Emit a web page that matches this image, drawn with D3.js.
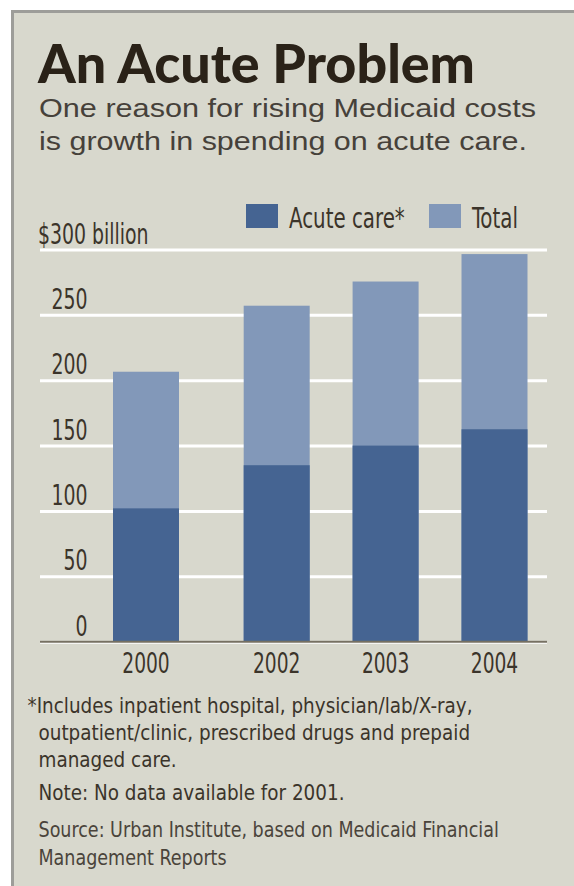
<!DOCTYPE html>
<html>
<head>
<meta charset="utf-8">
<script src="https://cdn.jsdelivr.net/npm/d3@7"></script>
<style>
  body { margin: 0; background: #fff; }
  svg text { font-family: 'DejaVu Sans Condensed', 'DejaVu Sans', sans-serif; fill: #3b342a; }
</style>
</head>
<body>
<script>
// Data (billions of dollars)
const years = ['2000', '2002', '2003', '2004'];
const acuteCare = [102, 135, 150, 162.5];
const totalSpending = [206.5, 257, 275.5, 296.5];
const yTicks = [0, 50, 100, 150, 200, 250, 300];

const titleText = 'An Acute Problem';
const subtitleLines = [
  'One reason for rising Medicaid costs',
  'is growth in spending on acute care.',
];
const legendLabels = ['Acute care*', 'Total'];
const footnoteFirst = '*Includes inpatient hospital, physician/lab/X-ray,';
const footnoteLines = [
  'outpatient/clinic, prescribed drugs and prepaid',
  'managed care.',
];
const noteText = 'Note: No data available for 2001.';
const sourceLines = [
  'Source: Urban Institute, based on Medicaid Financial',
  'Management Reports',
];

const darkBlue = '#456492';
const lightBlue = '#8298b9';

// squeeze text horizontally, the original uses a condensed face
const condense = (sel, factor) =>
  sel.each(function () {
    const len = this.getComputedTextLength();
    d3.select(this)
      .attr('textLength', len * factor)
      .attr('lengthAdjust', 'spacingAndGlyphs');
  });

// Canvas
const width = 574;
const height = 886;
const svg = d3
  .select('body')
  .append('svg')
  .attr('width', width)
  .attr('height', height);

// Panel background and border
svg
  .append('rect')
  .attr('x', 12)
  .attr('y', 10)
  .attr('width', width - 12)
  .attr('height', height - 10)
  .attr('fill', '#d8d8cd');

svg
  .append('path')
  .attr('d', `M12.5,${height}V11.5H${width}`)
  .attr('fill', 'none')
  .attr('stroke', '#9d9d99')
  .attr('stroke-width', 3);

// Title + subtitle
svg
  .append('text')
  .attr('x', 38)
  .attr('y', 83)
  .attr('textLength', 437)
  .attr('lengthAdjust', 'spacingAndGlyphs')
  .style('font-family', "Lato, 'DejaVu Sans', sans-serif")
  .style('font-weight', 900)
  .style('font-size', '54px')
  .style('fill', '#2a2218')
  .text(titleText);

svg
  .append('g')
  .selectAll('text')
  .data(subtitleLines)
  .join('text')
  .attr('x', 39)
  .attr('y', (d, i) => 116.5 + i * 33.5)
  .attr('textLength', (d, i) => (i === 0 ? 497 : 488))
  .attr('lengthAdjust', 'spacingAndGlyphs')
  .style('font-family', "'Liberation Sans', Arial, sans-serif")
  .style('font-size', '25px')
  .style('fill', '#46413a')
  .text((d) => d);

// Scales: the missing 2001 gives the first gap a little more room
const slots = years.reduce((acc, yr, i) => {
  acc.push(i === 0 ? 0 : acc[i - 1] + (+yr - +years[i - 1] > 1 ? 1.2 : 1));
  return acc;
}, []);
const x = d3
  .scaleLinear()
  .domain([0, slots[slots.length - 1]])
  .range([146, 494.5]);
const barWidth = 66;

const y = d3.scaleLinear().domain([0, 300]).range([641.7, 249.5]);

// Gridlines + tick labels
const yAxis = d3
  .axisLeft(y)
  .tickValues(yTicks)
  .tickSize(507)
  .tickFormat((d) => (d === 300 ? '$300 billion' : d));

const gy = svg
  .append('g')
  .attr('transform', 'translate(547,0)')
  .call(yAxis)
  .attr('font-family', null)
  .attr('font-size', null);
gy.select('.domain').remove();
gy.selectAll('line').attr('stroke', '#fff').attr('stroke-width', 3);
gy.selectAll('text')
  .attr('x', (d) => (d === 300 ? 38 - 547 : 87.5 - 547))
  .attr('dy', -6.5)
  .attr('text-anchor', (d) => (d === 300 ? 'start' : 'end'))
  .style('font-size', '28px')
  .call(condense, 0.75);

// Bars: total behind, acute care in front
svg
  .append('g')
  .selectAll('rect')
  .data(years)
  .join('rect')
  .attr('x', (d, i) => x(slots[i]) - barWidth / 2)
  .attr('y', (d, i) => y(totalSpending[i]))
  .attr('width', barWidth)
  .attr('height', (d, i) => y(0) - y(totalSpending[i]))
  .attr('fill', lightBlue);

svg
  .append('g')
  .selectAll('rect')
  .data(years)
  .join('rect')
  .attr('x', (d, i) => x(slots[i]) - barWidth / 2)
  .attr('y', (d, i) => y(acuteCare[i]))
  .attr('width', barWidth)
  .attr('height', (d, i) => y(0) - y(acuteCare[i]))
  .attr('fill', darkBlue);

// Baseline
svg
  .append('line')
  .attr('x1', 40)
  .attr('x2', 547)
  .attr('y1', y(0))
  .attr('y2', y(0))
  .attr('stroke', '#767062')
  .attr('stroke-width', 2);

// Year labels
svg
  .append('g')
  .selectAll('text')
  .data(years)
  .join('text')
  .attr('x', (d, i) => x(slots[i]))
  .attr('y', 673)
  .attr('text-anchor', 'middle')
  .style('font-size', '28px')
  .text((d) => d)
  .call(condense, 0.74);

// Legend
const legend = svg.append('g').attr('transform', 'translate(246,204)');
const legendX = [0, 183];
legend
  .selectAll('rect')
  .data(legendLabels)
  .join('rect')
  .attr('x', (d, i) => legendX[i])
  .attr('width', 32)
  .attr('height', 24)
  .attr('fill', (d, i) => (i === 0 ? darkBlue : lightBlue));
legend
  .selectAll('text')
  .data(legendLabels)
  .join('text')
  .attr('x', (d, i) => legendX[i] + 43)
  .attr('y', 24)
  .style('font-size', '29px')
  .text((d) => d)
  .call(condense, 0.76);

// Footnotes
const notes = svg.append('g').style('font-size', '21.5px');
notes
  .append('text')
  .attr('x', 27.5)
  .attr('y', 713)
  .text(footnoteFirst);
notes
  .selectAll('.fn')
  .data(footnoteLines)
  .join('text')
  .attr('class', 'fn')
  .attr('x', 38.5)
  .attr('y', (d, i) => 740 + i * 27)
  .text((d) => d);
notes.append('text').attr('x', 38.5).attr('y', 800).text(noteText);
notes
  .selectAll('.src')
  .data(sourceLines)
  .join('text')
  .attr('class', 'src')
  .attr('x', 38.5)
  .attr('y', (d, i) => 836.5 + i * 28.5)
  .style('font-size', '20.5px')
  .style('fill', '#4a443b')
  .text((d) => d);
notes.selectAll('text').call(condense, 0.95);
</script>
</body>
</html>
